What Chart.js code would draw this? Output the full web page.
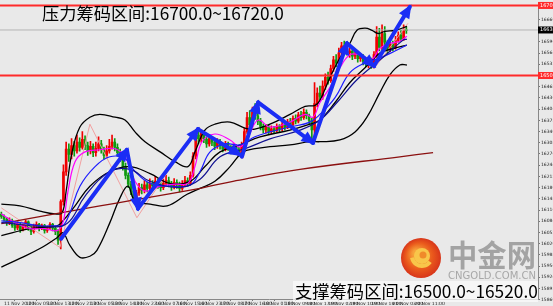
<!DOCTYPE html>
<html><head><meta charset="utf-8">
<script src="https://cdn.jsdelivr.net/npm/chart.js@4.4.1/dist/chart.umd.min.js"></script>
<style>html,body{margin:0;padding:0;background:#e9e9e9;overflow:hidden}canvas{display:block}</style>
</head><body>
<canvas id="c" width="553" height="306"></canvas>
<script>
// ---- candle data (H1) ----
const opens=[16104,16098,16090,16080,16086,16072,16065,16076,16060,16070,16082,16066,16055,16070,16075,16063,16072,16058,16066,16075,16064,
16055,16030,16140,16225,16290,
16275,16300,16285,16310,16295,16318,16300,16285,16298,16280,16292,16305,16288,16272,16285,16298,16310,16295,16280,
16268,16240,16215,16190,16170,16150,
16165,16180,16172,16188,16178,16192,16185,16198,16188,16180,16192,16200,16190,16182,16195,16188,16178,16190,16200,16192,
16215,16270,16330,
16320,16335,16318,16305,16320,16310,16298,16312,16300,16290,16305,16295,16285,16298,16288,
16280,16300,16340,16380,16360,16395,16385,
16370,16355,16345,16352,16340,16348,16342,16355,16348,16360,16352,16368,16360,16378,16370,16388,16380,16395,16385,16372,
16345,16420,16450,16440,16470,16495,16485,16520,16545,16535,16565,16585,
16575,16565,16570,16555,16562,16548,16555,16540,16535,16545,
16530,16560,16610,16580,16620,16595,16575,16590,16580,16600,16615,16605,16630];
const closes=[16098,16090,16080,16086,16072,16065,16076,16060,16070,16082,16066,16055,16070,16075,16063,16072,16058,16066,16075,16064,16055,
16030,16140,16225,16290,16275,
16300,16285,16310,16295,16318,16300,16285,16298,16280,16292,16305,16288,16272,16285,16298,16310,16295,16280,16268,
16240,16215,16190,16170,16150,16165,
16180,16172,16188,16178,16192,16185,16198,16188,16180,16192,16200,16190,16182,16195,16188,16178,16190,16200,16192,16215,
16270,16330,16320,
16335,16318,16305,16320,16310,16298,16312,16300,16290,16305,16295,16285,16298,16288,16280,
16300,16340,16380,16360,16395,16385,16370,
16355,16345,16352,16340,16348,16342,16355,16348,16360,16352,16368,16360,16378,16370,16388,16380,16395,16385,16372,16345,
16420,16450,16440,16470,16495,16485,16520,16545,16535,16565,16585,16575,
16565,16570,16555,16562,16548,16555,16540,16535,16545,16530,
16560,16610,16580,16620,16595,16575,16590,16580,16600,16615,16605,16630,16628];
const highs=[16110,16102,16095,16094,16090,16078,16082,16080,16076,16088,16085,16070,16076,16082,16078,16076,16075,16070,16080,16078,16068,
16060,16145,16245,16310,16305,
16320,16312,16330,16322,16340,16328,16310,16312,16305,16310,16325,16315,16296,16300,16318,16330,16320,16305,16290,
16275,16250,16222,16198,16178,16172,
16192,16190,16200,16195,16205,16200,16212,16205,16195,16204,16215,16210,16198,16206,16202,16196,16200,16212,16208,16225,
16280,16345,16352,
16345,16342,16325,16330,16326,16316,16320,16318,16305,16312,16310,16300,16305,16302,16295,
16310,16350,16395,16400,16410,16420,16415,
16378,16362,16360,16358,16356,16355,16362,16360,16368,16366,16375,16378,16385,16388,16395,16398,16405,16402,16390,16378,
16480,16465,16470,16485,16505,16510,16530,16555,16560,16578,16595,16598,
16590,16580,16575,16570,16566,16562,16560,16548,16552,16550,
16568,16640,16635,16645,16640,16600,16605,16598,16612,16625,16630,16645,16640];
const lows=[16092,16084,16072,16074,16066,16058,16060,16052,16056,16064,16058,16046,16050,16064,16056,16060,16050,16052,16060,16056,16046,
16018,16005,16130,16215,16255,
16262,16270,16278,16284,16290,16288,16272,16276,16268,16270,16285,16278,16262,16265,16278,16290,16285,16270,16255,
16230,16205,16180,16160,16140,16128,
16158,16162,16165,16168,16172,16176,16180,16178,16170,16174,16186,16182,16172,16176,16178,16168,16172,16184,16184,16188,
16210,16262,16305,
16310,16308,16295,16298,16300,16288,16292,16290,16282,16285,16286,16276,16278,16278,16268,
16272,16295,16335,16350,16355,16375,16360,
16345,16336,16336,16332,16334,16335,16338,16340,16342,16345,16348,16352,16355,16362,16365,16372,16375,16376,16360,16305,
16312,16410,16425,16432,16460,16475,16480,16512,16525,16530,16555,16565,
16558,16552,16545,16548,16538,16540,16530,16525,16522,16520,
16522,16552,16570,16572,16585,16560,16568,16570,16575,16595,16598,16600,16620];

// ---- axis labels ----
const xTickIdx=[1,9,17,25,33,41,49,57,65,73,81,89,97,105,113,121,129,137,145,153];
const xTickText=["11 Nov 20:00","12 Nov 05:00","12 Nov 13:00","12 Nov 21:00","13 Nov 05:00","13 Nov 14:00","13 Nov 22:00","16 Nov 07:00","16 Nov 15:00","16 Nov 23:00","17 Nov 08:00","17 Nov 16:00","18 Nov 01:00","18 Nov 09:00","18 Nov 17:00","19 Nov 02:00","19 Nov 10:00","19 Nov 18:00","20 Nov 03:00","20 Nov 11:00"];
const yTickVals=[16660,16596,16564,16532,16468,16436,16404,16372,16340,16308,16276,16244,16212,16180,16148,16116,16084,16052,16020,15988,15956,15924,15892,15860];
const levelHigh=16700, levelLow=16500, lastPrice=16630;

// ---- indicator lines [index, price] ----
const upperBand=[[0,16133],[6.9,16128],[14.3,16113],[19.9,16105],[22.5,16108],[24,16170],[26.2,16282],[29.1,16353],[32.8,16381],[36.5,16389],[42.1,16381],[45.8,16373],[49.5,16339],[53.2,16311],[58.8,16282],[64.3,16254],[69.1,16240],[71.7,16282],[75.4,16344],[79.1,16361],[84.7,16367],[90.2,16350],[93.9,16347],[99.5,16361],[106.9,16389],[112.5,16412],[116.2,16415],[118,16429],[121.7,16494],[125.4,16550],[129.1,16592],[131.7,16629],[134.7,16635],[137.3,16629],[139.5,16620],[142.1,16626],[145.8,16629],[150.2,16640]];
const middleBand=[[0,16043],[10.6,16063],[20.6,16071],[22.8,16085],[27.3,16128],[32.8,16184],[40.2,16226],[47.6,16240],[55.1,16220],[62.5,16192],[69.9,16198],[75.4,16240],[81,16282],[88.4,16302],[95.8,16325],[106.9,16344],[114.3,16361],[118,16373],[123.6,16423],[129.1,16480],[134.7,16522],[140.2,16564],[145.8,16578],[150.2,16587]];
const lowerBand=[[0,15953],[6.9,15978],[14.3,16006],[20.6,16037],[22.8,16051],[25.4,16015],[29.1,15981],[32.8,15984],[35.4,16001],[40.2,16080],[43.9,16150],[46.9,16184],[49.5,16142],[55.1,16133],[61.4,16128],[68.8,16161],[73.6,16178],[79.1,16198],[84.7,16240],[89.5,16282],[93.9,16291],[99.5,16297],[106.9,16302],[114.3,16311],[118,16311],[125.4,16316],[131,16339],[135.4,16381],[140.2,16451],[143.9,16502],[147.6,16530],[150.2,16530]];
const maFast=[[0,16105],[5.1,16080],[10.6,16063],[16.2,16063],[20.6,16057],[22.8,16080],[24.7,16170],[27.3,16254],[31,16282],[36.5,16288],[42.1,16291],[45.8,16268],[49.5,16198],[53.2,16170],[58.8,16184],[64.3,16190],[69.1,16192],[71.7,16240],[74.3,16311],[79.1,16333],[84.7,16316],[88.4,16296],[91.4,16325],[95.1,16373],[99.5,16353],[106.9,16367],[112.5,16389],[115.4,16381],[118,16423],[121.7,16466],[125.4,16522],[129.1,16559],[132.8,16559],[137.3,16547],[140.2,16578],[143.9,16592],[147.6,16598],[150.2,16612]];
const maMid=[[0,16085],[6.9,16080],[14.3,16071],[20.6,16071],[22.8,16071],[25.4,16108],[29.1,16184],[34.7,16240],[40.2,16268],[45.8,16263],[49.5,16226],[55.1,16192],[62.5,16184],[69.9,16187],[73.6,16226],[77.3,16282],[82.8,16305],[88.4,16302],[93.9,16325],[99.5,16339],[106.9,16353],[114.3,16367],[118,16389],[123.6,16437],[129.1,16508],[134.7,16536],[140.2,16550],[145.8,16570],[150.2,16587]];
const maNavy=[[0,16080],[20.6,16068],[25.4,16085],[31,16156],[40.2,16226],[47.6,16232],[55.1,16198],[66.2,16181],[73.6,16204],[81,16268],[90.2,16291],[99.5,16319],[110.6,16344],[118,16373],[124.3,16423],[131.7,16488],[140.2,16544],[148.8,16601],[150.2,16604]];
const maSlow=[[0,16077],[36.5,16128],[73.6,16178],[85.8,16198],[110.6,16232],[147.6,16268],[159.9,16280]];
const zigzag=[[0,16122],[21.7,16009],[32.8,16361],[50.2,16094],[72.8,16353],[89.5,16263],[95.1,16429],[115.4,16305],[128,16598],[138,16519],[150.6,16649]];
const arrows=[
 [[22.1,16034],[46.5,16288]],
 [[46.5,16288],[50.6,16120]],
 [[50.6,16120],[72.8,16347]],
 [[72.8,16347],[88.4,16274]],
 [[89.1,16268],[95.1,16423]],
 [[95.1,16423],[115.4,16308]],
 [[115.4,16308],[128,16592]],
 [[128,16592],[138,16527]],
 [[138,16527],[151.3,16696]]
];
const topText="压力筹码区间:16700.0~16720.0";
const bottomText="支撑筹码区间:16500.0~16520.0";

// ---- build datasets ----
const UP='#f00000', DOWN='#109a10';
const idx=closes.map((_,i)=>i);
const candleCol=idx.map(i=>closes[i]>=opens[i]?UP:DOWN);
const toPts=a=>a.map(p=>({x:p[0],y:p[1]}));
const lineDs=(data,color,w,order,tension)=>({type:'line',data:toPts(data),borderColor:color,borderWidth:w,pointRadius:0,tension:tension,order:order,fill:false});
const XMIN=-0.5, XMAX=198.76, YMIN=15862, YMAX=16705;

const datasets=[
 {type:'bar',data:idx.map(i=>({x:i,y:[lows[i],highs[i]]})),backgroundColor:candleCol,barThickness:1,grouped:false,order:6},
 {type:'bar',data:idx.map(i=>({x:i,y:[opens[i],closes[i]]})),backgroundColor:candleCol,barThickness:2,minBarLength:1,grouped:false,order:6},
 lineDs(zigzag,'#f2a0a0',1,5,0),
 lineDs(maSlow,'#8b1010',1.3,4,0.4),
 lineDs(upperBand,'#000000',1.3,4,0.4),
 lineDs(middleBand,'#000000',1.3,4,0.4),
 lineDs(lowerBand,'#000000',1.3,4,0.4),
 lineDs(maNavy,'#101090',1.2,3,0.4),
 lineDs(maMid,'#1c1cff',1.2,3,0.4),
 lineDs(maFast,'#ff00ff',1.2,3,0.4),
 lineDs([[XMIN,lastPrice],[XMAX,lastPrice]],'#b4b4b4',1,5,0),
 lineDs([[XMIN,levelHigh],[XMAX,levelHigh]],'#ff2b2b',2,2,0),
 lineDs([[XMIN,levelLow],[XMAX,levelLow]],'#ff2b2b',2,2,0),
];
arrows.forEach(a=>{const d=lineDs(a,'#1b2df5',4,0,0);d.arrow=true;d.borderCapStyle='round';datasets.push(d);});

const fitFont=(ctx,text,w,weight)=>{ctx.font=weight+' 100px "Noto Sans CJK SC"';const m=ctx.measureText(text).width;return 100*w/m;};

const deco={
 id:'deco',
 beforeDraw(chart){const c=chart.ctx;c.save();c.fillStyle='#e9e9e9';c.fillRect(0,0,chart.width,chart.height);c.restore();},
 beforeDatasetsDraw(chart){
   const c=chart.ctx;c.save();
   const cx=421,cy=258,r=20;
   const g=c.createRadialGradient(cx-5,cy-5,3,cx,cy,r);
   g.addColorStop(0,'#f7a13a');g.addColorStop(0.6,'#ea5a1c');g.addColorStop(1,'#d8361a');
   c.fillStyle=g;c.beginPath();c.arc(cx,cy,r,0,Math.PI*2);c.fill();
   c.fillStyle='#f8c64a';c.beginPath();c.arc(cx+1,cy-2,8,0,Math.PI*2);c.fill();
   c.fillStyle='#f08a2a';c.beginPath();c.arc(cx+2,cy-3,3.5,0,Math.PI*2);c.fill();
   c.strokeStyle='#f8c64a';c.lineWidth=4;c.beginPath();c.arc(cx+1,cy-2,10,0.2*Math.PI,0.95*Math.PI);c.stroke();
   c.fillStyle='rgba(150,150,150,0.85)';
   const s1=fitFont(c,'中金网',88,'bold');c.font='bold '+s1+'px "Noto Sans CJK SC"';c.textBaseline='alphabetic';c.fillText('中金网',448,266);
   c.fillStyle='rgba(160,160,160,0.9)';
   c.font='10px "DejaVu Sans"';const w2=c.measureText('CNGOLD.COM.CN').width;c.save();c.translate(448,279);c.scale(88/w2,1);c.fillText('CNGOLD.COM.CN',0,0);c.restore();
   c.restore();
 },
 afterDatasetsDraw(chart){
   const c=chart.ctx;c.save();
   chart.data.datasets.forEach((ds,k)=>{
     if(!ds.arrow)return;const pts=chart.getDatasetMeta(k).data;const a=pts[pts.length-2],b=pts[pts.length-1];
     const ang=Math.atan2(b.y-a.y,b.x-a.x),L=11,W=6;
     c.fillStyle=ds.borderColor;c.beginPath();
     c.moveTo(b.x+Math.cos(ang)*3,b.y+Math.sin(ang)*3);
     c.lineTo(b.x-Math.cos(ang)*L+Math.cos(ang+Math.PI/2)*W,b.y-Math.sin(ang)*L+Math.sin(ang+Math.PI/2)*W);
     c.lineTo(b.x-Math.cos(ang)*L-Math.cos(ang+Math.PI/2)*W,b.y-Math.sin(ang)*L-Math.sin(ang+Math.PI/2)*W);
     c.closePath();c.fill();
   });
   c.restore();
 },
 afterDraw(chart){
   const c=chart.ctx,ys=chart.scales.y,ca=chart.chartArea;c.save();
   const box=(v,bg)=>{const y=ys.getPixelForValue(v);c.fillStyle=bg;c.fillRect(ca.right,Math.max(0,y-3.5),553-ca.right,7);c.fillStyle='#fff';c.font='5px "DejaVu Sans"';c.textBaseline='middle';c.textAlign='left';c.fillText(v.toFixed(1),ca.right+2,Math.max(3.5,y));};
   box(levelHigh,'#ff2b2b');box(levelLow,'#ff2b2b');box(lastPrice,'#000');
   c.fillStyle='#000';c.textBaseline='alphabetic';c.textAlign='left';
   const s=fitFont(c,topText,242,'normal');c.font=s+'px "Noto Sans CJK SC"';c.fillText(topText,42,20);
   const s2=fitFont(c,bottomText,243,'normal');c.font=s2+'px "Noto Sans CJK SC"';
   c.fillStyle='rgba(250,250,250,0.75)';c.fillRect(293,281,245,21);
   c.fillStyle='#000';c.fillText(bottomText,295,298);
   c.restore();
 }
};

new Chart(document.getElementById('c'),{
 type:'bar',
 data:{datasets},
 options:{
  responsive:false,animation:false,devicePixelRatio:1,
  layout:{padding:0},
  plugins:{legend:{display:false},tooltip:{enabled:false}},
  scales:{
   x:{type:'linear',min:XMIN,max:XMAX,offset:false,
      afterBuildTicks:s=>{s.ticks=xTickIdx.map(v=>({value:v}));},
      afterFit:s=>{s.height=7;},
      ticks:{align:'start',maxRotation:0,autoSkip:false,padding:0,font:{size:4.5,family:'DejaVu Sans'},color:'#222',callback:v=>{const k=xTickIdx.indexOf(v);return k>=0?xTickText[k]:'';}},
      grid:{drawOnChartArea:false,drawTicks:true,tickLength:2,color:'#777'},border:{color:'#888'}},
   y:{type:'linear',position:'right',min:YMIN,max:YMAX,
      afterBuildTicks:s=>{s.ticks=yTickVals.map(v=>({value:v}));},
      afterFit:s=>{s.width=15;},
      ticks:{padding:1,autoSkip:false,font:{size:4.5,family:'DejaVu Sans'},color:'#222',callback:v=>v.toFixed(1)},
      grid:{drawOnChartArea:false,drawTicks:true,tickLength:2,color:'#777'},border:{color:'#888'}}
  }
 },
 plugins:[deco]
});
</script>
</body></html>
